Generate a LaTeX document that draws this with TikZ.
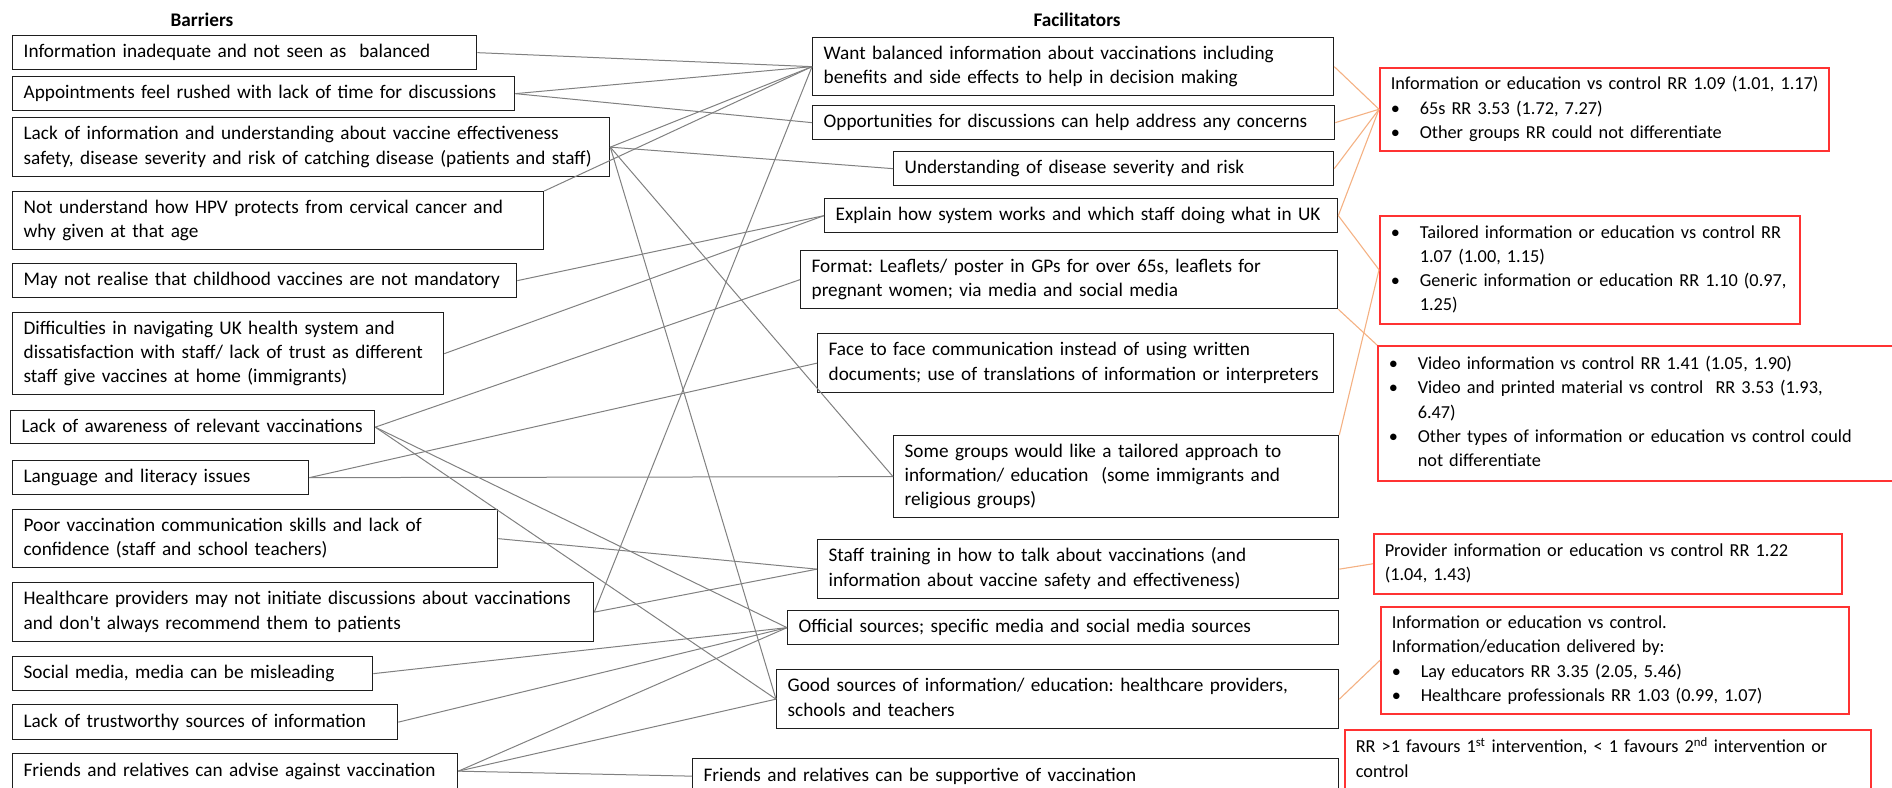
\documentclass[tikz,border=0pt]{standalone}
\usepackage{fontspec}
\setmainfont{Carlito}
\newcommand{\fs}{\fontsize{19.25}{24.3}\selectfont\frenchspacing}
\newcommand{\fr}{\fontsize{18.3}{24.2}\selectfont\frenchspacing}
\newcommand{\lines}[1]{\begin{tabular}{@{}l@{}}#1\end{tabular}}
\newcommand{\bl}{\makebox[29pt][l]{\textbullet}}
\newcommand{\ind}{\hspace*{29pt}}
\definecolor{linegrey}{RGB}{128,128,128}
\definecolor{orangeline}{RGB}{244,177,131}
\definecolor{redbox}{RGB}{255,50,50}
\definecolor{boxline}{RGB}{30,30,30}
\tikzset{
  box/.style={draw=boxline, line width=1.3pt, anchor=north west, inner xsep=11pt, inner ysep=0pt, align=left, font=\fs},
  rbox/.style={box, draw=redbox, line width=1.5pt, font=\fr},
  gl/.style={draw=linegrey, line width=1pt},
  ol/.style={draw=orangeline, line width=1.1pt},
  ttl/.style={font=\fs\bfseries, inner sep=0pt}
}
\begin{document}
\begin{tikzpicture}[x=1pt,y=-1pt]
\useasboundingbox (0,0) rectangle (1892,787);
% titles
\node[ttl] (tb) at (202,20) {Barriers};
\node[ttl] (tf) at (1077,20) {Facilitators};
% barriers
\node[box, text width=442pt, minimum height=34pt] (b1) at (12,35) {\lines{Information inadequate and not seen as\ \ balanced}};
\node[box, text width=480pt, minimum height=34pt] (b2) at (12,76) {\lines{Appointments feel rushed with lack of time for discussions}};
\node[box, text width=575pt, minimum height=59pt] (b3) at (12,117) {\lines{Lack of information and understanding about vaccine effectiveness\\safety, disease severity and risk of catching disease (patients and staff)}};
\node[box, text width=509pt, minimum height=58pt] (b4) at (12,191) {\lines{Not understand how HPV protects from cervical cancer and\\why given at that age}};
\node[box, text width=482pt, minimum height=34pt] (b5) at (12,263) {\lines{May not realise that childhood vaccines are not mandatory}};
\node[box, text width=409pt, minimum height=82pt] (b6) at (12,312) {\lines{Difficulties in navigating UK health system and\\dissatisfaction with staff/ lack of trust as different\\staff give vaccines at home (immigrants)}};
\node[box, text width=342pt, minimum height=33pt] (b7) at (10,410) {\lines{Lack of awareness of relevant vaccinations}};
\node[box, text width=274pt, minimum height=34pt] (b8) at (12,460) {\lines{Language and literacy issues}};
\node[box, text width=463pt, minimum height=58pt] (b9) at (12,509) {\lines{Poor vaccination communication skills and lack of\\confidence (staff and school teachers)}};
\node[box, text width=559pt, minimum height=59pt] (b10) at (12,582) {\lines{Healthcare providers may not initiate discussions about vaccinations\\and don\textquotesingle t always recommend them to patients}};
\node[box, text width=338pt, minimum height=34pt] (b11) at (12,656) {\lines{Social media, media can be misleading}};
\node[box, text width=363pt, minimum height=35pt] (b12) at (12,704) {\lines{Lack of trustworthy sources of information}};
\node[box, text width=423pt, minimum height=35pt] (b13) at (12,753) {\lines{Friends and relatives can advise against vaccination}};
% facilitators
\node[box, text width=499pt, minimum height=58pt] (f1) at (812,37) {\lines{Want balanced information about vaccinations including\\benefits and side effects to help in decision making}};
\node[box, text width=500pt, minimum height=34pt] (f2) at (812,105) {\lines{Opportunities for discussions can help address any concerns}};
\node[box, text width=418pt, minimum height=34pt] (f3) at (893,151) {\lines{Understanding of disease severity and risk}};
\node[box, text width=491pt, minimum height=34pt] (f4) at (824,198) {\lines{Explain how system works and which staff doing what in UK}};
\node[box, text width=515pt, minimum height=58pt] (f5) at (800,250) {\lines{Format: Leaflets/ poster in GPs for over 65s, leaflets for\\pregnant women; via media and social media}};
\node[box, text width=494pt, minimum height=59pt] (f6) at (817,333) {\lines{Face to face communication instead of using written\\documents; use of translations of information or interpreters}};
\node[box, text width=423pt, minimum height=82pt] (f7) at (893,435) {\lines{Some groups would like a tailored approach to\\information/ education\ \ (some immigrants and\\religious groups)}};
\node[box, text width=499pt, minimum height=59pt] (f8) at (817,539) {\lines{Staff training in how to talk about vaccinations (and\\information about vaccine safety and effectiveness)}};
\node[box, text width=529pt, minimum height=34pt] (f9) at (787,610) {\lines{Official sources; specific media and social media sources}};
\node[box, text width=540pt, minimum height=59pt] (f10) at (776,669) {\lines{Good sources of information/ education: healthcare providers,\\schools and teachers}};
\node[box, text width=624pt, minimum height=35pt] (f11) at (692,758) {\lines{Friends and relatives can be supportive of vaccination}};
% results
\node[rbox, text width=427pt, minimum height=83pt] (r1) at (1379,67) {\lines{Information or education vs control RR 1.09 (1.01, 1.17)\\\bl 65s RR 3.53 (1.72, 7.27)\\\bl Other groups RR could not differentiate}};
\node[rbox, text width=398pt, minimum height=108pt] (r2) at (1379,215) {\lines{\bl Tailored information or education vs control RR\\\ind 1.07 (1.00, 1.15)\\\bl Generic information or education RR 1.10 (0.97,\\\ind 1.25)}};
\node[rbox, text width=498pt, minimum height=135pt] (r3) at (1377,345) {\lines{\bl Video information vs control RR 1.41 (1.05, 1.90)\\\bl Video and printed material vs control\ \ RR 3.53 (1.93,\\\ind 6.47)\\\bl Other types of information or education vs control could\\\ind not differentiate}};
\node[rbox, text width=446pt, minimum height=60pt] (r4) at (1373,533) {\lines{Provider information or education vs control RR 1.22\\(1.04, 1.43)}};
\node[rbox, text width=446pt, minimum height=107pt] (r5) at (1380,606) {\lines{Information or education vs control.\\Information/education delivered by:\\\bl Lay educators RR 3.35 (2.05, 5.46)\\\bl Healthcare professionals RR 1.03 (0.99, 1.07)}};
\node[rbox, text width=504pt, minimum height=61pt] (r6) at (1344,729) {\lines{RR >1 favours 1\textsuperscript{st} intervention, < 1 favours 2\textsuperscript{nd} intervention or\\control}};
% grey connectors barriers -> facilitators
\draw[gl] (b1.east) -- (f1.west);
\draw[gl] (b2.east) -- (f1.west);
\draw[gl] (b2.east) -- (f2.west);
\draw[gl] (b3.east) -- (f1.west);
\draw[gl] (b3.east) -- (f3.west);
\draw[gl] (b3.east) -- (f7.west);
\draw[gl] (b3.east) -- (f10.west);
\draw[gl] (b4.north east) -- (f1.west);
\draw[gl] (b5.east) -- (f4.west);
\draw[gl] (b6.east) -- (f4.west);
\draw[gl] (b7.east) -- (f5.west);
\draw[gl] (b7.east) -- (f9.west);
\draw[gl] (b7.east) -- (f10.west);
\draw[gl] (b8.east) -- (f6.west);
\draw[gl] (b8.east) -- (f7.west);
\draw[gl] (b9.east) -- (f8.west);
\draw[gl] (b10.east) -- (f1.west);
\draw[gl] (b10.east) -- (f8.west);
\draw[gl] (b11.east) -- (f9.west);
\draw[gl] (b12.east) -- (f9.west);
\draw[gl] (b13.east) -- (f9.west);
\draw[gl] (b13.east) -- (f10.west);
\draw[gl] (b13.east) -- (f11.west);
% orange connectors facilitators -> results
\draw[ol] (f1.east) -- (r1.west);
\draw[ol] (f2.east) -- (r1.west);
\draw[ol] (f3.east) -- (r1.west);
\draw[ol] (f4.east) -- (r1.west);
\draw[ol] (f4.east) -- (r2.west);
\draw[ol] (f7.north east) -- (r2.west);
\draw[ol] (f5.south east) -- (r3.north west);
\draw[ol] (f8.east) -- (r4.west);
\draw[ol] (f10.east) -- (r5.west);
\end{tikzpicture}
\end{document}
